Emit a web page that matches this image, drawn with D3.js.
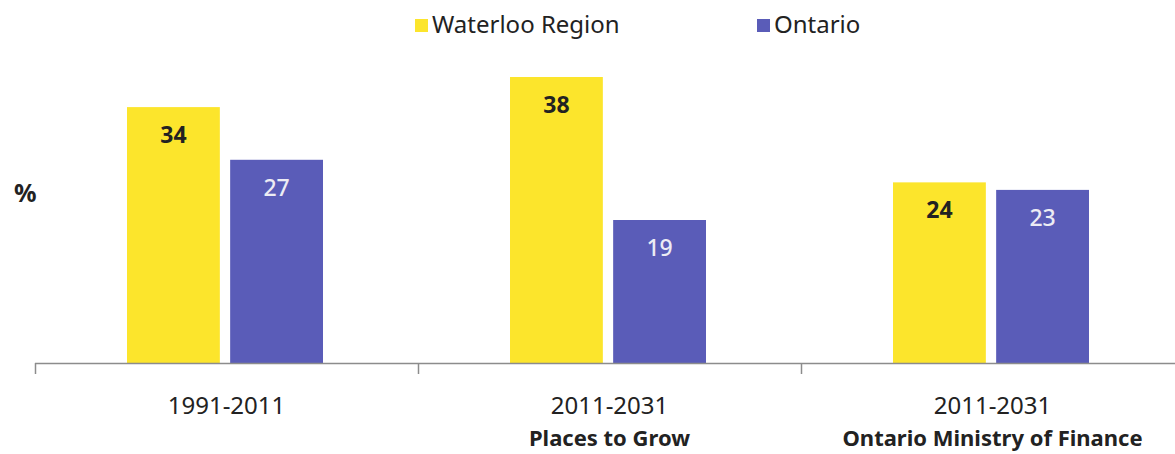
<!DOCTYPE html>
<html>
<head>
<meta charset="utf-8">
<script src="https://cdn.jsdelivr.net/npm/d3@7/dist/d3.min.js"></script>
<style>
  html, body { margin: 0; padding: 0; background: #fff; }
  svg { display: block; font-family: "Noto Sans", "Open Sans", sans-serif; }
</style>
</head>
<body>
<svg id="chart" width="1175" height="454"></svg>
<script>
// Population growth over twenty-year periods, in percent
const periods = ["1991-2011", "2011-2031", "2011-2031"];
const sources = ["", "Places to Grow", "Ontario Ministry of Finance"];
const seriesNames = ["Waterloo Region", "Ontario"];
const waterloo = [34, 38, 24];
const ontario = [27, 19, 23];
const colors = ["#FCE52C", "#5A5CB8"];
const labelColors = ["#222222", "#ECECF4"];

const svg = d3.select("#chart");
const baseY = 363;

const x0 = d3.scaleBand().domain(d3.range(periods.length)).range([35, 1184]).paddingInner(0).paddingOuter(0);
const x1 = d3.scaleBand().domain(d3.range(seriesNames.length))
  .range([92, 288]).paddingInner(0.1);
const y = d3.scaleLinear().domain([0, 38]).range([baseY, 77]);

const rows = periods.map((p, i) => ({ i, values: [waterloo[i], ontario[i]] }));

const groups = svg.selectAll("g.group").data(rows).enter().append("g")
  .attr("class", "group")
  .attr("transform", d => `translate(${x0(d.i)},0)`);

groups.selectAll("rect").data(d => d.values.map((v, s) => ({ v, s }))).enter()
  .append("rect")
  .attr("x", d => x1(d.s))
  .attr("width", x1.bandwidth())
  .attr("y", d => y(d.v))
  .attr("height", d => baseY - y(d.v))
  .attr("fill", d => colors[d.s]);

groups.selectAll("text.val").data(d => d.values.map((v, s) => ({ v, s }))).enter()
  .append("text")
  .attr("class", "val")
  .attr("x", d => x1(d.s) + x1.bandwidth() / 2)
  .attr("y", d => y(d.v) + 36)
  .attr("text-anchor", "middle")
  .attr("font-size", 23)
  .attr("font-weight", d => d.s === 0 ? 700 : 500)
  .attr("fill", d => labelColors[d.s])
  .text(d => d.v);

// Category axis along the baseline
const axis = svg.append("g");
axis.append("line")
  .attr("x1", 35).attr("x2", 1175)
  .attr("y1", baseY + 0.5).attr("y2", baseY + 0.5)
  .attr("stroke", "#8c8c8c").attr("stroke-width", 1.5);
axis.selectAll("line.tick").data(d3.range(periods.length)).enter()
  .append("line")
  .attr("class", "tick")
  .attr("x1", d => x0(d) + 0.5).attr("x2", d => x0(d) + 0.5)
  .attr("y1", baseY).attr("y2", baseY + 11)
  .attr("stroke", "#8c8c8c").attr("stroke-width", 1.5);

axis.selectAll("text.period").data(periods).enter()
  .append("text")
  .attr("class", "period")
  .attr("x", (d, i) => x0(i) + x0.bandwidth() / 2)
  .attr("y", 414)
  .attr("text-anchor", "middle")
  .attr("font-size", 24)
  .attr("fill", "#222")
  .text(d => d);

axis.selectAll("text.source").data(sources).enter()
  .append("text")
  .attr("class", "source")
  .attr("x", (d, i) => x0(i) + x0.bandwidth() / 2)
  .attr("y", 446)
  .attr("text-anchor", "middle")
  .attr("font-size", 22)
  .attr("font-weight", 700)
  .attr("fill", "#222")
  .text(d => d);

// Unit label
svg.append("text")
  .attr("x", 14).attr("y", 202)
  .attr("font-size", 25)
  .attr("font-weight", 700)
  .attr("fill", "#222")
  .text("%");

// Legend
const legendX = [415, 757];
const legend = svg.selectAll("g.legend").data(seriesNames).enter().append("g")
  .attr("class", "legend")
  .attr("transform", (d, i) => `translate(${legendX[i]},0)`);
legend.append("rect")
  .attr("x", 0).attr("y", 19).attr("width", 13).attr("height", 13)
  .attr("fill", (d, i) => colors[i]);
legend.append("text")
  .attr("x", 17).attr("y", 33)
  .attr("font-size", 24)
  .attr("fill", "#222")
  .text(d => d);
</script>
</body>
</html>
